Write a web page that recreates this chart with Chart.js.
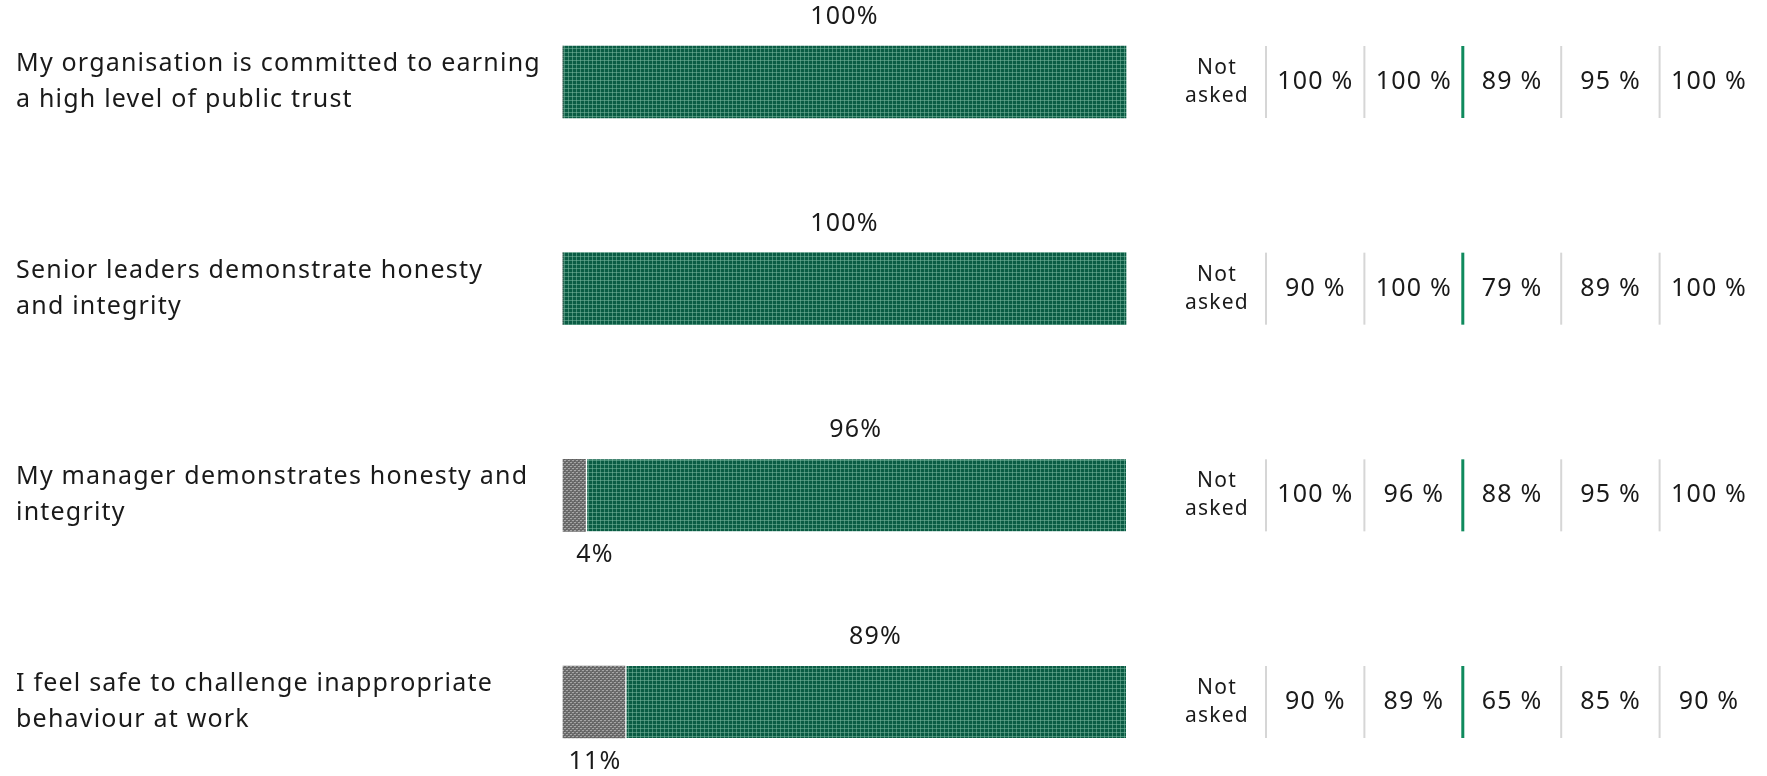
<!DOCTYPE html>
<html>
<head>
<meta charset="utf-8">
<script src="https://cdn.jsdelivr.net/npm/chart.js@4.4.1/dist/chart.umd.min.js"></script>
<style>
  html, body { margin: 0; padding: 0; background: #fff; }
  #wrap { width: 1767px; height: 776px; position: relative; }
</style>
</head>
<body>
<div id="wrap"><canvas id="chart"></canvas></div>
<script>
// Preguntas (categorías)
const questions = [
  ["My organisation is committed to earning", "a high level of public trust"],
  ["Senior leaders demonstrate honesty", "and integrity"],
  ["My manager demonstrates honesty and", "integrity"],
  ["I feel safe to challenge inappropriate", "behaviour at work"]
];

// Valores de las barras
const disagree = [0, 0, 4, 11];
const agree = [100, 100, 96, 89];

// Tabla de comparación (null = Not asked)
const compare1 = [null, 100, 100, 89, 95, 100];
const compare2 = [null, 90, 100, 79, 89, 100];
const compare3 = [null, 100, 96, 88, 95, 100];
const compare4 = [null, 90, 89, 65, 85, 90];
const compareRows = [compare1, compare2, compare3, compare4];

const FONT = "'Noto Sans', sans-serif";
const TEXT = "#1a1a1a";

// Patrones de relleno
function makePattern(kind) {
  const c = document.createElement("canvas");
  const g = c.getContext("2d");
  c.width = 4; c.height = 4;
  if (kind === "green") {
    g.fillStyle = "#0a5c44";
    g.fillRect(0, 0, 4, 4);
    g.fillStyle = "rgba(130, 190, 165, 0.5)";
    g.fillRect(0, 0, 4, 1);
    g.fillRect(0, 0, 1, 4);
  } else {
    g.fillStyle = "#6e6e6e";
    g.fillRect(0, 0, 4, 4);
    g.fillStyle = "#a6a6a6";
    g.fillRect(0, 0, 2, 1);
    g.fillRect(2, 2, 2, 1);
    g.fillStyle = "#5c5c5c";
    g.fillRect(2, 1, 1, 1);
    g.fillRect(0, 3, 1, 1);
  }
  return g.createPattern(c, "repeat");
}

// Dibujar etiquetas y tabla
const extras = {
  id: "extras",
  afterDatasetsDraw(chart) {
    const ctx = chart.ctx;
    const greyMeta = chart.getDatasetMeta(0);
    const greenMeta = chart.getDatasetMeta(1);
    ctx.save();
    ctx.fillStyle = TEXT;
    ctx.textBaseline = "middle";
    ctx.letterSpacing = "1.2px";

    questions.forEach((q, i) => {
      const bar = greenMeta.data[i];
      const cy = bar.y;
      const top = cy - bar.height / 2;
      const bottom = cy + bar.height / 2;

      // Pregunta
      ctx.font = "25px " + FONT;
      ctx.textAlign = "left";
      ctx.fillText(q[0], 16, cy - 18);
      ctx.fillText(q[1], 16, cy + 18);

      // Porcentaje positivo
      ctx.textAlign = "center";
      ctx.fillText(agree[i] + "%", (bar.base + bar.x) / 2, top - 29);

      // Porcentaje negativo
      if (disagree[i] > 0) {
        const g = greyMeta.data[i];
        const gx = Math.max((g.base + g.x) / 2, g.base + 32);
        ctx.fillText(disagree[i] + "%", gx, bottom + 24);
      }

      // Tabla de la derecha
      const row = compareRows[i];
      row.forEach((v, j) => {
        const cx = 1217 + j * 98.4;
        if (v === null) {
          ctx.font = "21px " + FONT;
          ctx.fillText("Not", cx, cy - 14);
          ctx.fillText("asked", cx, cy + 14);
        } else {
          ctx.font = "25px " + FONT;
          ctx.fillText(v + " %", cx, cy);
        }
        if (j < row.length - 1) {
          const sx = 1266 + j * 98.4;
          ctx.fillStyle = j === 2 ? "#0f8a5d" : "#d6d6d6";
          ctx.fillRect(j === 2 ? sx - 1.5 : sx - 1, top, j === 2 ? 3 : 2, bottom - top);
          ctx.fillStyle = TEXT;
        }
      });
    });
    ctx.restore();
  }
};

const ctx = document.getElementById("chart").getContext("2d");
const greenFill = makePattern("green");
const greyFill = makePattern("grey");

new Chart(ctx, {
  type: "bar",
  data: {
    labels: questions.map(q => q.join(" ")),
    datasets: [
      {
        label: "Disagree",
        data: disagree,
        backgroundColor: greyFill,
        borderWidth: 0,
        barThickness: 72,
        clip: false
      },
      {
        label: "Agree",
        data: agree,
        backgroundColor: greenFill,
        borderColor: "#ffffff",
        borderWidth: c => (disagree[c.dataIndex] > 0 ? { left: 2 } : 0),
        borderSkipped: false,
        barThickness: 72,
        clip: false
      }
    ]
  },
  options: {
    indexAxis: "y",
    responsive: true,
    maintainAspectRatio: false,
    animation: false,
    layout: { padding: { left: 563, right: 641, top: 82, bottom: 74 } },
    plugins: {
      legend: { display: false },
      tooltip: { enabled: false }
    },
    scales: {
      x: { stacked: true, min: 0, max: 100, display: false },
      y: { stacked: true, offset: false, display: false }
    }
  },
  plugins: [extras]
});
</script>
</body>
</html>
